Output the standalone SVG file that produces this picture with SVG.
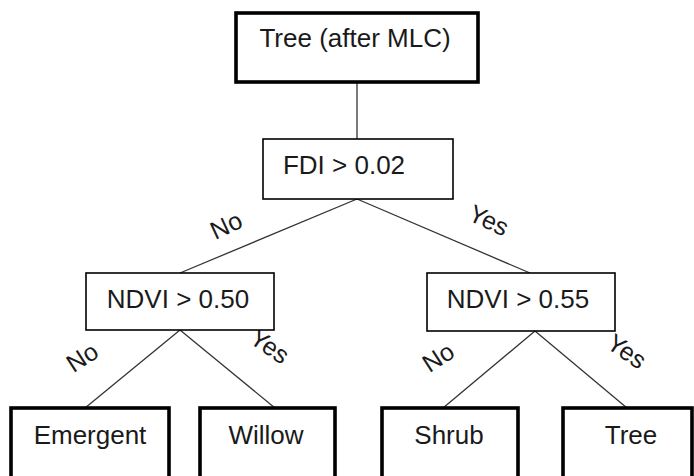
<svg xmlns="http://www.w3.org/2000/svg" width="694" height="476" viewBox="0 0 694 476">
<style>
.box{fill:#fff;stroke:#000;stroke-width:1.6}
.thick{fill:#fff;stroke:#000;stroke-width:3.6}
.t{font-family:"Liberation Sans",Arial,sans-serif;font-size:26px;fill:#1a1a1a;text-anchor:middle}
.lbl{font-family:"Liberation Sans",Arial,sans-serif;font-size:25px;fill:#1a1a1a;text-anchor:middle;dominant-baseline:central}
.c{stroke:#333;stroke-width:1.3;fill:none}
</style>
<rect width="694" height="476" fill="#fff"/>
<g id="connectors">
<line class="c" x1="357" y1="82" x2="357" y2="139"/>
<line class="c" x1="357" y1="199" x2="180" y2="273"/>
<line class="c" x1="357" y1="199" x2="530" y2="273"/>
<line class="c" x1="180" y1="330" x2="85" y2="408"/>
<line class="c" x1="180" y1="330" x2="275" y2="408"/>
<line class="c" x1="535" y1="331" x2="443" y2="408"/>
<line class="c" x1="535" y1="331" x2="627" y2="408"/>
<text class="lbl" transform="translate(226,225) rotate(-25)">No</text>
<text class="lbl" transform="translate(489,220) rotate(25)">Yes</text>
<text class="lbl" transform="translate(82,357) rotate(-33)">No</text>
<text class="lbl" transform="translate(270,346) rotate(34)">Yes</text>
<text class="lbl" transform="translate(438,357) rotate(-33)">No</text>
<text class="lbl" transform="translate(627,351) rotate(34)">Yes</text>
</g>
<g id="root">
<rect class="thick" x="236" y="13" width="242" height="69"/>
<text class="t" x="355" y="47">Tree (after MLC)</text>
</g>
<g id="fdi">
<rect class="box" x="263" y="139" width="190" height="60"/>
<text class="t" x="344" y="174">FDI &gt; 0.02</text>
</g>
<g id="ndvi050">
<rect class="box" x="86" y="273" width="188" height="57"/>
<text class="t" x="178" y="308">NDVI &gt; 0.50</text>
</g>
<g id="ndvi055">
<rect class="box" x="427" y="273" width="188" height="58"/>
<text class="t" x="518" y="308">NDVI &gt; 0.55</text>
</g>
<g id="emergent">
<rect class="thick" x="11" y="408" width="158" height="80"/>
<text class="t" x="90" y="444">Emergent</text>
</g>
<g id="willow">
<rect class="thick" x="200" y="408" width="135" height="80"/>
<text class="t" x="266" y="444">Willow</text>
</g>
<g id="shrub">
<rect class="thick" x="382" y="408" width="136" height="80"/>
<text class="t" x="449" y="444">Shrub</text>
</g>
<g id="tree">
<rect class="thick" x="563" y="408" width="129" height="80"/>
<text class="t" x="631" y="444">Tree</text>
</g>
</svg>
